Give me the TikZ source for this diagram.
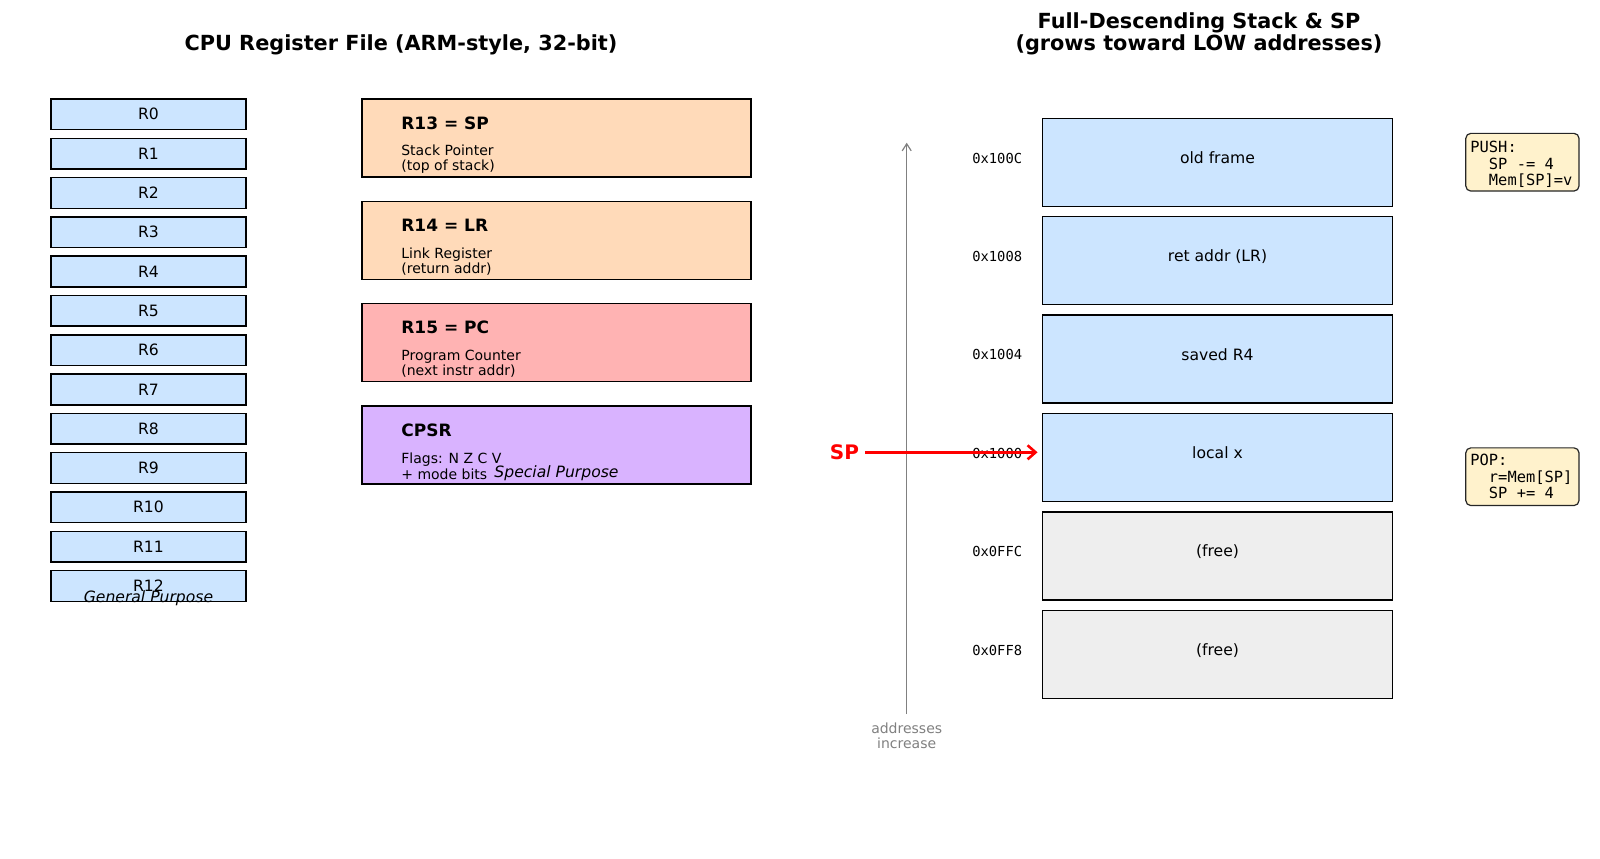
\documentclass[tikz,border=0pt]{standalone}
\usepackage{fontspec}
\setmainfont{DejaVu Sans}
\setmonofont{DejaVu Sans Mono}
\usetikzlibrary{arrows.meta,positioning}

\definecolor{regblue}{HTML}{CCE5FF}
\definecolor{peach}{HTML}{FFDAB9}
\definecolor{pcred}{HTML}{FFB3B3}
\definecolor{cpsrpurple}{HTML}{D9B3FF}
\definecolor{freegray}{HTML}{EEEEEE}
\definecolor{noteyellow}{HTML}{FFF2CC}

\newcommand{\tsp}{\hphantom{0}}

\begin{document}
\begin{tikzpicture}[x=0.5pt,y=-0.5pt,
  reg/.style={draw,line width=0.75pt,fill=regblue,minimum width=97.5pt,minimum height=15.35pt,inner sep=0pt,font=\fontsize{7.8}{9}\selectfont,node distance=19.65pt},
  special/.style={draw,line width=0.75pt,minimum width=194.5pt,minimum height=39pt,inner sep=0pt,node distance=51.15pt},
  boxtitle/.style={anchor=west,inner sep=0pt,font=\bfseries\fontsize{8.5}{10}\selectfont},
  boxsub/.style={anchor=west,inner sep=0pt,align=left,font=\fontsize{7}{7.85}\selectfont},
  cell/.style={draw,line width=0.75pt,minimum width=175.2pt,minimum height=44pt,inner sep=0pt,text height=5.9pt,text depth=5pt,font=\fontsize{7.8}{9}\selectfont,node distance=49.2pt},
  addr/.style={inner sep=0pt,text height=5.7pt,text depth=5pt,font=\ttfamily\fontsize{6.9}{8}\selectfont},
  note/.style={draw=black!85,line width=0.6pt,fill=noteyellow,rounded corners=2.5pt,align=left,text width=52pt,inner xsep=2.3pt,inner ysep=1pt,minimum height=28.85pt,font=\ttfamily\fontsize{7.7}{8.3}\selectfont},
  heading/.style={font=\bfseries\fontsize{10.4}{11}\selectfont,align=center},
  tag/.style={font=\itshape\fontsize{7.8}{9}\selectfont},
  addraxis/.style={draw=gray,line width=0.6pt,-{Straight Barb[length=3.5pt,width=4.5pt]}}]

  \useasboundingbox (0,0) rectangle (1600,858);

  \node[heading] (lefttitle) at (401,45) {CPU Register File (ARM-style, 32-bit)};
  \node[heading] (righttitle) at (1199,33.5) {Full-Descending Stack \& SP\\(grows toward LOW addresses)};

  \node[reg] (r0) at (148.5,114.3) {R0};
  \node[reg] (r1) [below of=r0] {R1};
  \node[reg] (r2) [below of=r1] {R2};
  \node[reg] (r3) [below of=r2] {R3};
  \node[reg] (r4) [below of=r3] {R4};
  \node[reg] (r5) [below of=r4] {R5};
  \node[reg] (r6) [below of=r5] {R6};
  \node[reg] (r7) [below of=r6] {R7};
  \node[reg] (r8) [below of=r7] {R8};
  \node[reg] (r9) [below of=r8] {R9};
  \node[reg] (r10) [below of=r9] {R10};
  \node[reg] (r11) [below of=r10] {R11};
  \node[reg] (r12) [below of=r11] {R12};
  \node[tag] (gp) at ([yshift=-6pt]r12.center) {General Purpose};

  \node[special,fill=peach] (sp) at (556.5,138) {};
  \node[special,fill=peach] (lr) [below of=sp] {};
  \node[special,fill=pcred] (pc) [below of=lr] {};
  \node[special,fill=cpsrpurple] (cpsr) [below of=pc] {};

  \node[boxtitle] (sptitle) at ([xshift=19.85pt,yshift=-12.35pt]sp.north west) {R13 = SP};
  \node[boxsub] (spsub) at ([xshift=19.85pt,yshift=-30.5pt]sp.north west) {Stack Pointer\\(top of stack)};
  \node[boxtitle] (lrtitle) at ([xshift=19.85pt,yshift=-12.35pt]lr.north west) {R14 = LR};
  \node[boxsub] (lrsub) at ([xshift=19.85pt,yshift=-30.5pt]lr.north west) {Link Register\\(return addr)};
  \node[boxtitle] (pctitle) at ([xshift=19.85pt,yshift=-12.35pt]pc.north west) {R15 = PC};
  \node[boxsub] (pcsub) at ([xshift=19.85pt,yshift=-30.5pt]pc.north west) {Program Counter\\(next instr addr)};
  \node[boxtitle] (cpsrtitle) at ([xshift=19.85pt,yshift=-12.35pt]cpsr.north west) {CPSR};
  \node[boxsub] (cpsrsub) at ([xshift=19.85pt,yshift=-30.5pt]cpsr.north west) {Flags: N Z C V\\+ mode bits};
  \node[tag] (spec) at ([yshift=-34pt]cpsr.north) {Special Purpose};

  \node[cell,fill=regblue] (s1) at (1217.5,162.3) {old frame};
  \node[cell,fill=regblue] (s2) [below of=s1] {ret addr (LR)};
  \node[cell,fill=regblue] (s3) [below of=s2] {saved R4};
  \node[cell,fill=regblue] (s4) [below of=s3] {local x};
  \node[cell,fill=freegray] (s5) [below of=s4] {(free)};
  \node[cell,fill=freegray] (s6) [below of=s5] {(free)};

  \coordinate (axbot) at (906.7,714);
  \coordinate (axtop) at (906.7,142.7);
  \draw[addraxis] (axbot) -- (axtop);
  \node[text=gray,align=center,inner sep=0pt,font=\fontsize{7}{7.4}\selectfont] (axlabel) [below=4.3pt of axbot] {addresses\\increase};

  \node[addr] (a1) [left=9.5pt of s1] {0x100C};
  \node[addr] (a2) [left=9.5pt of s2] {0x1008};
  \node[addr] (a3) [left=9.5pt of s3] {0x1004};
  \node[addr] (a4) [left=9.5pt of s4] {0x1000};
  \node[addr] (a5) [left=9.5pt of s5] {0x0FFC};
  \node[addr] (a6) [left=9.5pt of s6] {0x0FF8};

  \node[text=red,inner sep=3pt,font=\bfseries\fontsize{10}{12}\selectfont] (spl) at (844.5,452.3) {SP};
  \draw[red,line width=1.3pt,-{Straight Barb[length=4pt,width=7pt]},shorten >=2pt] (spl.east) -- (spl.east -| s4.west);

  \node[note] (push) at (1522.4,162.2) {\rule{0pt}{7.9pt}PUSH:\\\tsp\tsp SP\tsp-=\tsp4\\\tsp\tsp Mem[SP]=v};
  \node[note] (pop) at (1522.4,476.7) {POP:\\\tsp\tsp r=Mem[SP]\\\tsp\tsp SP\tsp+=\tsp4};

\end{tikzpicture}
\end{document}
